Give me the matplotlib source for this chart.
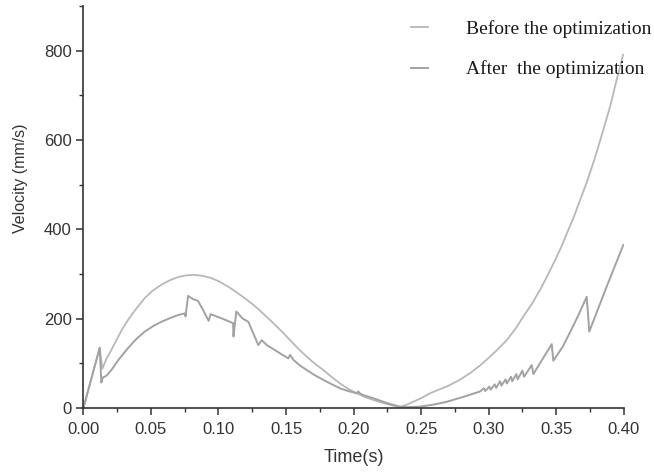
import numpy as np
import matplotlib.pyplot as plt
from matplotlib.ticker import MultipleLocator, FormatStrFormatter

# 优化前速度曲线
before_t = [0, 0.0121, 0.0140, 0.0150, 0.017, 0.0207, 0.025, 0.029, 0.033, 0.038,
            0.0454, 0.051, 0.0577, 0.064, 0.070, 0.076, 0.0824, 0.088, 0.0947, 0.100,
            0.107, 0.113, 0.1194, 0.125, 0.1293, 0.135, 0.1406, 0.147, 0.153, 0.159,
            0.1653, 0.171, 0.1776, 0.184, 0.19, 0.196, 0.2023, 0.208, 0.2146, 0.221,
            0.227, 0.234, 0.239, 0.2442, 0.250, 0.2566, 0.263, 0.269, 0.278, 0.2862,
            0.294, 0.301, 0.307, 0.3134, 0.320, 0.3257, 0.332, 0.338, 0.3435, 0.349,
            0.354, 0.3578, 0.3627, 0.368, 0.3726, 0.3765, 0.380, 0.3849, 0.3899, 0.3948,
            0.3995]
before_v = [0, 135, 88, 95, 110, 130, 155, 178, 197, 218,
            246, 262, 276, 286, 293, 297, 298, 296, 291, 284,
            272, 260, 246, 233, 222, 206, 190, 171, 152, 133,
            115, 100, 85, 69, 55, 43, 33, 25, 18, 12,
            7, 2, 7, 14, 22, 33, 41, 48, 62, 78,
            96, 115, 132, 152, 178, 205, 233, 264, 296, 330,
            362, 390, 425, 468, 505, 540, 573, 623, 675, 735,
            791]

# 优化后速度曲线
after_t = [0, 0.0121, 0.0133, 0.0143, 0.017, 0.0207, 0.026, 0.033, 0.039, 0.0454,
           0.052, 0.0577, 0.064, 0.070, 0.0753, 0.0756, 0.0775, 0.0811, 0.0848, 0.0885,
           0.0927, 0.0942, 0.1021, 0.1108, 0.1111, 0.1132, 0.118, 0.1221, 0.1295, 0.132,
           0.1357, 0.1517, 0.153, 0.1554, 0.160, 0.1653, 0.171, 0.1776, 0.184, 0.19,
           0.196, 0.2023, 0.2035, 0.205, 0.208, 0.2146, 0.221, 0.227, 0.2343, 0.2392,
           0.249, 0.260, 0.269, 0.2813, 0.2936, 0.2965, 0.2975, 0.3005, 0.3015, 0.3045,
           0.3055, 0.3085, 0.3095, 0.3125, 0.3135, 0.3165, 0.3175, 0.3205, 0.3215, 0.3250,
           0.3262, 0.3319, 0.3331, 0.3467, 0.3479, 0.355, 0.360, 0.366, 0.3726, 0.3745,
           0.3874, 0.3997]
after_v = [0, 135, 57, 68, 72, 85, 108, 134, 154, 171,
           184, 193, 201, 208, 212, 205, 251, 244, 240, 220,
           195, 210, 201, 190, 160, 216, 200, 193, 141, 152,
           141, 111, 119, 108, 96, 85, 74, 63, 53, 44,
           38, 33, 37, 32, 28, 22, 15, 9, 3, 2,
           3, 8, 14, 25, 37, 44, 38, 48, 41, 53,
           45, 60, 50, 64, 55, 70, 60, 76, 64, 84,
           70, 96, 76, 143, 106, 138, 168, 205, 249, 171,
           272, 365]

plt.rcParams['font.family'] = ['Liberation Sans', 'DejaVu Sans']

fig = plt.figure(figsize=(6.54, 4.73), dpi=100)
ax = fig.add_axes([0.1275, 0.1374, 0.8262, 0.8499])

ax.plot(before_t, before_v, color='#b8b8b8', lw=1.3, label='Before the optimization')
ax.plot(after_t, after_v, color='#a2a2a2', lw=1.4, label='After  the optimization')

ax.set_xlim(0, 0.40)
ax.set_ylim(0, 900)
ax.spines['top'].set_visible(False)
ax.spines['right'].set_visible(False)
for s in ['left', 'bottom']:
    ax.spines[s].set_color('#333333')
    ax.spines[s].set_linewidth(1.2)

ax.xaxis.set_major_locator(MultipleLocator(0.05))
ax.xaxis.set_minor_locator(MultipleLocator(0.025))
ax.xaxis.set_major_formatter(FormatStrFormatter('%.2f'))
ax.yaxis.set_major_locator(MultipleLocator(200))
ax.yaxis.set_minor_locator(MultipleLocator(100))
ax.tick_params(which='major', direction='out', length=5, width=1.1, color='#333333',
               labelsize=12, labelcolor='#333333')
ax.tick_params(axis='x', which='major', pad=5)
ax.tick_params(which='minor', direction='out', length=3, width=1.0, color='#333333')

ax.set_xlabel('Time(s)', fontsize=13, color='#333333', va='center')
ax.set_ylabel('Velocity (mm/s)', fontsize=11.5, color='#333333', va='center')
ax.xaxis.set_label_coords(0.5, -0.122)
ax.yaxis.set_label_coords(-0.117, 0.572)

leg = ax.legend(loc='upper left', bbox_to_anchor=(0.606, 0.965), frameon=False,
                borderaxespad=0, borderpad=0, handlelength=0.88, handletextpad=1.95,
                labelspacing=1.16, prop={'family': ['Liberation Serif'], 'size': 14})
for t in leg.get_texts():
    t.set_color('#1a1a1a')

fig.savefig('out.png', dpi=100)
